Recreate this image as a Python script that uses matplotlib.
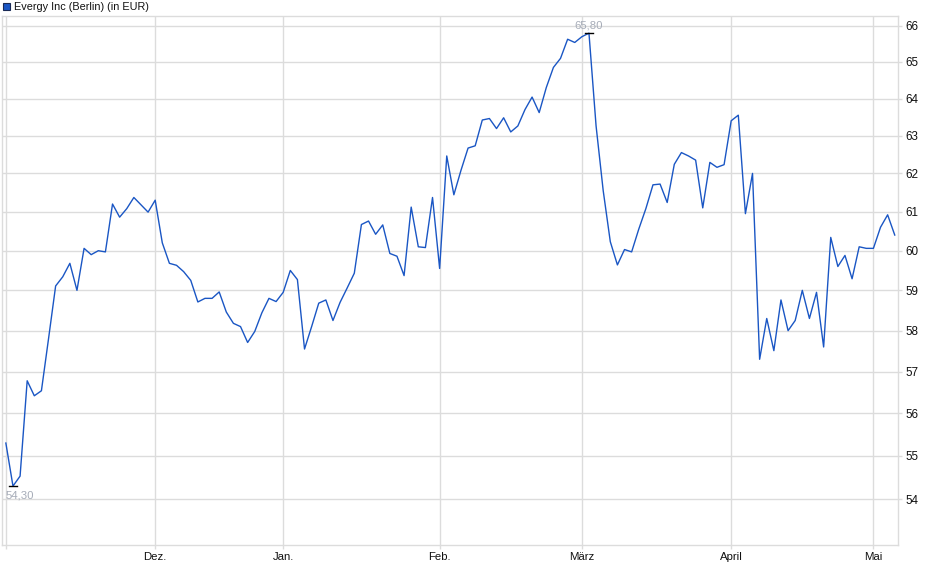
import matplotlib
matplotlib.use("Agg")
import matplotlib.pyplot as plt
from matplotlib.ticker import FixedLocator, NullLocator, FixedFormatter
from matplotlib.patches import Rectangle

plt.rcParams['font.family'] = ['Liberation Sans', 'DejaVu Sans']

# Daily closing prices (EUR), trading days from early Nov to early May
prices = [
    # Nov
    55.3, 54.30, 54.53, 56.78, 56.42, 56.54, 57.8, 59.11, 59.34, 59.68,
    59.0, 60.06, 59.9, 60.0, 59.97, 61.2, 60.86, 61.08, 61.37, 61.18, 60.99,
    # Dez
    61.3, 60.2, 59.68, 59.63, 59.47, 59.25, 58.71, 58.8, 58.8, 58.96,
    58.46, 58.18, 58.1, 57.71, 57.98, 58.44, 58.8, 58.72,
    # Jan
    58.95, 59.5, 59.27, 57.55, 58.1, 58.68, 58.76, 58.25, 58.7, 59.06,
    59.43, 60.67, 60.76, 60.42, 60.66, 59.93, 59.86, 59.37, 61.12, 60.1,
    60.08, 61.37,
    # Feb
    59.55, 62.46, 61.44, 62.08, 62.67, 62.73, 63.42, 63.46, 63.19, 63.48,
    63.1, 63.26, 63.7, 64.04, 63.62, 64.3, 64.85, 65.1, 65.63, 65.54,
    # März
    65.7, 65.80, 63.26, 61.55, 60.23, 59.64, 60.03, 59.97, 60.55, 61.08,
    61.7, 61.72, 61.24, 62.24, 62.55, 62.46, 62.35, 61.1, 62.29, 62.16, 62.23,
    # April
    63.4, 63.55, 60.95, 62.0, 57.3, 58.3, 57.51, 58.76, 58.0, 58.25,
    59.0, 58.3, 58.95, 57.6, 60.34, 59.6, 59.88, 59.29, 60.1, 60.06,
    # Mai
    60.06, 60.6, 60.92, 60.4,
]
month_idx = [21, 39, 61, 81, 102, 122]
month_labels = ["Dez.", "Jan.", "Feb.", "März", "April", "Mai"]
y_ticks = [54, 55, 56, 57, 58, 59, 60, 61, 62, 63, 64, 65, 66]
title = "Evergy Inc (Berlin) (in EUR)"

W, H = 940, 579
fig = plt.figure(figsize=(W / 100, H / 100), dpi=100)
ax = fig.add_axes([2.3 / W, 1 - 545 / H, (898.3 - 2.3) / W, (545 - 16) / H])

grid_c = "#dcdcdc"
line_c = "#1a56c4"

x = list(range(len(prices)))
ax.plot(x, prices, color=line_c, lw=1.0, zorder=3)

ax.set_yscale("log")
ax.set_ylim(52.96, 66.28)
ax.set_xlim(-0.5, len(prices) - 0.5)

ax.yaxis.set_major_locator(FixedLocator(y_ticks))
ax.yaxis.set_major_formatter(FixedFormatter([str(v) for v in y_ticks]))
ax.yaxis.set_minor_locator(NullLocator())
ax.yaxis.tick_right()
ax.tick_params(axis="y", which="major", length=3, width=1, color=grid_c,
               labelsize=8.4, pad=2, labelcolor="#111111")

grid_x = [0] + month_idx
ax.xaxis.set_major_locator(FixedLocator(grid_x))
ax.xaxis.set_major_formatter(FixedFormatter([""] + month_labels))
ax.xaxis.set_minor_locator(NullLocator())
ax.tick_params(axis="x", which="major", length=3, width=1, color=grid_c,
               labelsize=8.2, pad=2, labelcolor="#111111")

ax.grid(True, which="major", color=grid_c, lw=1.0, zorder=0)
for s in ax.spines.values():
    s.set_color(grid_c)
    s.set_linewidth(1.0)

# min / max markers
imin = prices.index(min(prices))
imax = prices.index(max(prices))
ax.plot([imin - 0.6, imin + 0.6], [prices[imin]] * 2, color="black", lw=1.0, zorder=4)
ax.plot([imax - 0.6, imax + 0.6], [prices[imax]] * 2, color="black", lw=1.0, zorder=4)
lab_c = "#a6acb8"
ax.annotate(f"{prices[imin]:.2f}".replace(".", ","), (imin, prices[imin]),
            xytext=(-7, -4), textcoords="offset pixels", ha="left", va="top",
            fontsize=8.2, color=lab_c, zorder=5)
ax.annotate(f"{prices[imax]:.2f}".replace(".", ","), (imax, prices[imax]),
            xytext=(0, 3), textcoords="offset pixels", ha="center", va="bottom",
            fontsize=8.2, color=lab_c, zorder=5)

# legend / title
fig.patches.append(Rectangle((3 / W, 1 - 10 / H), 7 / W, 7 / H, transform=fig.transFigure,
                             facecolor=line_c, edgecolor="#1a2a55", lw=0.8))
fig.text(14.5 / W, 1 - 6.5 / H, title, ha="left", va="center", fontsize=7.8, color="#111111")

fig.savefig("out.png", dpi=100)
